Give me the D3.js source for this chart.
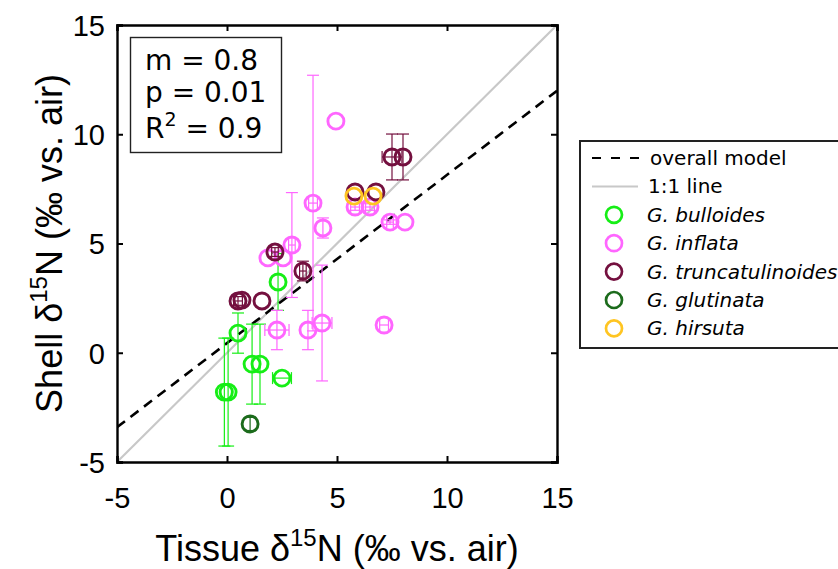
<!DOCTYPE html>
<html>
<head>
<meta charset="utf-8">
<script src="https://cdnjs.cloudflare.com/ajax/libs/d3/7.8.5/d3.min.js"></script>
<style>
  body { margin: 0; background: #fff; }
  svg { display: block; }
</style>
</head>
<body>
<div id="chart"></div>
<script>
// species names, legend order
var species = ["G. bulloides", "G. inflata", "G. truncatulinoides", "G. glutinata", "G. hirsuta"];
var speciesColors = ["#16ee16", "#ff66ff", "#74103f", "#1c6b1c", "#ffc522"];

// points per species: [tissue, shell, xErr, yErr]
var bulloides = [
  [0.50, 0.90, 0, 0.92],
  [1.14, -0.52, 0, 1.83],
  [1.50, -0.52, 0, 1.83],
  [-0.12, -1.80, 0, 2.47],
  [0.05, -1.80, 0, 2.47],
  [2.50, -1.16, 0.43, 0],
  [2.32, 3.24, 0, 1.3]
];
var inflata = [
  [4.95, 10.6, 0, 0],
  [3.91, 6.85, 0.2, 5.85],
  [4.36, 5.71, 0, 0.46],
  [2.95, 4.93, 0.15, 2.4],
  [1.86, 4.34, 0, 0],
  [2.55, 4.34, 0, 0],
  [2.27, 1.04, 0.55, 0.9],
  [3.68, 1.04, 0, 0.9],
  [4.32, 1.36, 0.45, 2.65],
  [7.14, 1.27, 0.2, 0],
  [5.82, 6.67, 0.2, 0.15],
  [6.50, 6.67, 0.2, 0.15],
  [7.41, 5.98, 0.15, 0.1],
  [8.09, 5.98, 0, 0]
];
var truncatulinoides = [
  [7.50, 8.96, 0.45, 1.05],
  [8.00, 8.96, 0, 1.05],
  [5.82, 7.36, 0, 0],
  [6.77, 7.36, 0, 0],
  [2.18, 4.61, 0.15, 0.2],
  [3.45, 3.74, 0.15, 0.45],
  [0.50, 2.37, 0.2, 0.2],
  [0.68, 2.41, 0, 0],
  [1.59, 2.37, 0, 0]
];
var glutinata = [
  [1.05, -3.26, 0, 0.3]
];
var hirsuta = [
  [5.77, 7.17, 0, 0],
  [6.64, 7.17, 0, 0]
];
var seriesData = [bulloides, inflata, truncatulinoides, glutinata, hirsuta];

// overall model fit and stats
var modelSlope = 0.77, modelIntercept = 0.44;
var statLines = [["m = 0.8"], ["p = 0.01"], ["R", "2", " = 0.9"]];
var ticks = [-5, 0, 5, 10, 15];

var W = 838, H = 569;
var margin = { left: 117, top: 25, right: 281, bottom: 107 };
var plotW = W - margin.left - margin.right,
    plotH = H - margin.top - margin.bottom;

var x = d3.scaleLinear().domain([-5, 15]).range([0, plotW]);
var y = d3.scaleLinear().domain([-5, 15]).range([plotH, 0]);

var svg = d3.select("#chart").append("svg")
  .attr("width", W).attr("height", H);

var g = svg.append("g")
  .attr("transform", "translate(" + margin.left + "," + margin.top + ")");

g.append("defs").append("clipPath").attr("id", "clip")
  .append("rect").attr("width", plotW).attr("height", plotH);

var plot = g.append("g").attr("clip-path", "url(#clip)");

// 1:1 line
plot.append("line")
  .attr("x1", x(-5)).attr("y1", y(-5))
  .attr("x2", x(15)).attr("y2", y(15))
  .attr("stroke", "#c8c8c8").attr("stroke-width", 2.2);

// overall model
plot.append("line")
  .attr("x1", x(-5)).attr("y1", y(modelSlope * -5 + modelIntercept))
  .attr("x2", x(15)).attr("y2", y(modelSlope * 15 + modelIntercept))
  .attr("stroke", "#000").attr("stroke-width", 2.6)
  .attr("stroke-dasharray", "10,7");

// error bars then markers, species by species
var cap = 6;
seriesData.forEach(function (pts, i) {
  var col = speciesColors[i];
  var sg = plot.append("g");
  pts.forEach(function (d) {
    var cx = x(d[0]), cy = y(d[1]);
    if (d[3] > 0) {
      sg.append("line").attr("x1", cx).attr("x2", cx)
        .attr("y1", y(d[1] - d[3])).attr("y2", y(d[1] + d[3]))
        .attr("stroke", col).attr("stroke-width", 1.2);
      [d[1] - d[3], d[1] + d[3]].forEach(function (v) {
        sg.append("line").attr("x1", cx - cap).attr("x2", cx + cap)
          .attr("y1", y(v)).attr("y2", y(v))
          .attr("stroke", col).attr("stroke-width", 1.2);
      });
    }
    if (d[2] > 0) {
      sg.append("line").attr("y1", cy).attr("y2", cy)
        .attr("x1", x(d[0] - d[2])).attr("x2", x(d[0] + d[2]))
        .attr("stroke", col).attr("stroke-width", 1.2);
      [d[0] - d[2], d[0] + d[2]].forEach(function (v) {
        sg.append("line").attr("y1", cy - cap).attr("y2", cy + cap)
          .attr("x1", x(v)).attr("x2", x(v))
          .attr("stroke", col).attr("stroke-width", 1.2);
      });
    }
  });
  sg.selectAll("circle").data(pts).enter().append("circle")
    .attr("cx", function (d) { return x(d[0]); })
    .attr("cy", function (d) { return y(d[1]); })
    .attr("r", 8)
    .attr("fill", "none")
    .attr("stroke", col)
    .attr("stroke-width", 2.9);
});

// axes box with inward ticks
var axisFont = "'Liberation Sans', Arial, sans-serif";
var fmt = function (d) { return String(d); };
var xAxis = g.append("g").attr("transform", "translate(0," + plotH + ")")
  .call(d3.axisBottom(x).tickValues(ticks).tickSize(-6).tickPadding(23).tickFormat(fmt));
var yAxis = g.append("g")
  .call(d3.axisLeft(y).tickValues(ticks).tickSize(-6).tickPadding(12).tickFormat(fmt));
var xTop = g.append("g")
  .call(d3.axisTop(x).tickValues(ticks).tickSize(-6).tickFormat(""));
var yRight = g.append("g").attr("transform", "translate(" + plotW + ",0)")
  .call(d3.axisRight(y).tickValues(ticks).tickSize(-6).tickFormat(""));

[xAxis, yAxis, xTop, yRight].forEach(function (a) {
  a.select(".domain").attr("stroke", "#000").attr("stroke-width", 2.4);
  a.selectAll(".tick line").attr("stroke", "#000").attr("stroke-width", 2);
  a.selectAll("text").attr("font-family", axisFont).attr("font-size", 29).attr("fill", "#000");
});
xAxis.selectAll("text").attr("dy", "0.8em");
yAxis.selectAll("text").attr("dy", "0.36em");

// axis labels
var xl = svg.append("text")
  .attr("x", margin.left + plotW / 2).attr("y", 561)
  .attr("text-anchor", "middle")
  .attr("font-family", axisFont).attr("font-size", 36);
xl.append("tspan").text("Tissue \u03b4");
xl.append("tspan").attr("font-size", 24).attr("dy", -15).text("15");
xl.append("tspan").attr("dy", 15).text("N (\u2030 vs. air)");

var yl = svg.append("text")
  .attr("transform", "translate(62," + (margin.top + plotH / 2) + ") rotate(-90)")
  .attr("text-anchor", "middle")
  .attr("font-family", axisFont).attr("font-size", 36);
yl.append("tspan").text("Shell \u03b4");
yl.append("tspan").attr("font-size", 24).attr("dy", -15).text("15");
yl.append("tspan").attr("dy", 15).text("N (\u2030 vs. air)");

// stats box
var boxFont = "'DejaVu Sans', sans-serif";
svg.append("rect")
  .attr("x", 130.5).attr("y", 37.5).attr("width", 151).attr("height", 115)
  .attr("fill", "#fff").attr("stroke", "#222").attr("stroke-width", 1.4);
var statY = [70, 102, 138];
statLines.forEach(function (parts, i) {
  var t = svg.append("text").attr("x", 145).attr("y", statY[i])
    .attr("font-family", boxFont).attr("font-size", 28).attr("fill", "#000");
  if (parts.length === 3) {
    t.append("tspan").text(parts[0]);
    t.append("tspan").attr("font-size", 19).attr("dy", -12).text(parts[1]);
    t.append("tspan").attr("dy", 12).text(parts[2]);
  } else {
    t.text(parts[0]);
  }
});

// legend
var legFont = 20;
var lg = svg.append("g");
lg.append("rect")
  .attr("x", 580).attr("y", 141).attr("width", 270).attr("height", 207)
  .attr("fill", "#fff").attr("stroke", "#222").attr("stroke-width", 2);
var legY0 = 158, legStep = 28.4;
lg.append("line").attr("x1", 592).attr("x2", 639).attr("y1", legY0).attr("y2", legY0)
  .attr("stroke", "#000").attr("stroke-width", 2.2).attr("stroke-dasharray", "9,10");
lg.append("line").attr("x1", 592).attr("x2", 638).attr("y1", legY0 + legStep).attr("y2", legY0 + legStep)
  .attr("stroke", "#c8c8c8").attr("stroke-width", 2);
lg.append("text").attr("x", 650).attr("y", legY0).attr("dy", "0.35em")
  .attr("font-family", boxFont).attr("font-size", legFont).text("overall model");
lg.append("text").attr("x", 648).attr("y", legY0 + legStep).attr("dy", "0.35em")
  .attr("font-family", boxFont).attr("font-size", legFont).text("1:1 line");
species.forEach(function (s, i) {
  var yy = legY0 + legStep * (i + 2);
  lg.append("circle").attr("cx", 614).attr("cy", yy).attr("r", 8)
    .attr("fill", "none").attr("stroke", speciesColors[i]).attr("stroke-width", 2.7);
  lg.append("text").attr("x", 647).attr("y", yy).attr("dy", "0.35em")
    .attr("font-family", boxFont).attr("font-size", legFont).attr("font-style", "italic")
    .text(s);
});
</script>
</body>
</html>
